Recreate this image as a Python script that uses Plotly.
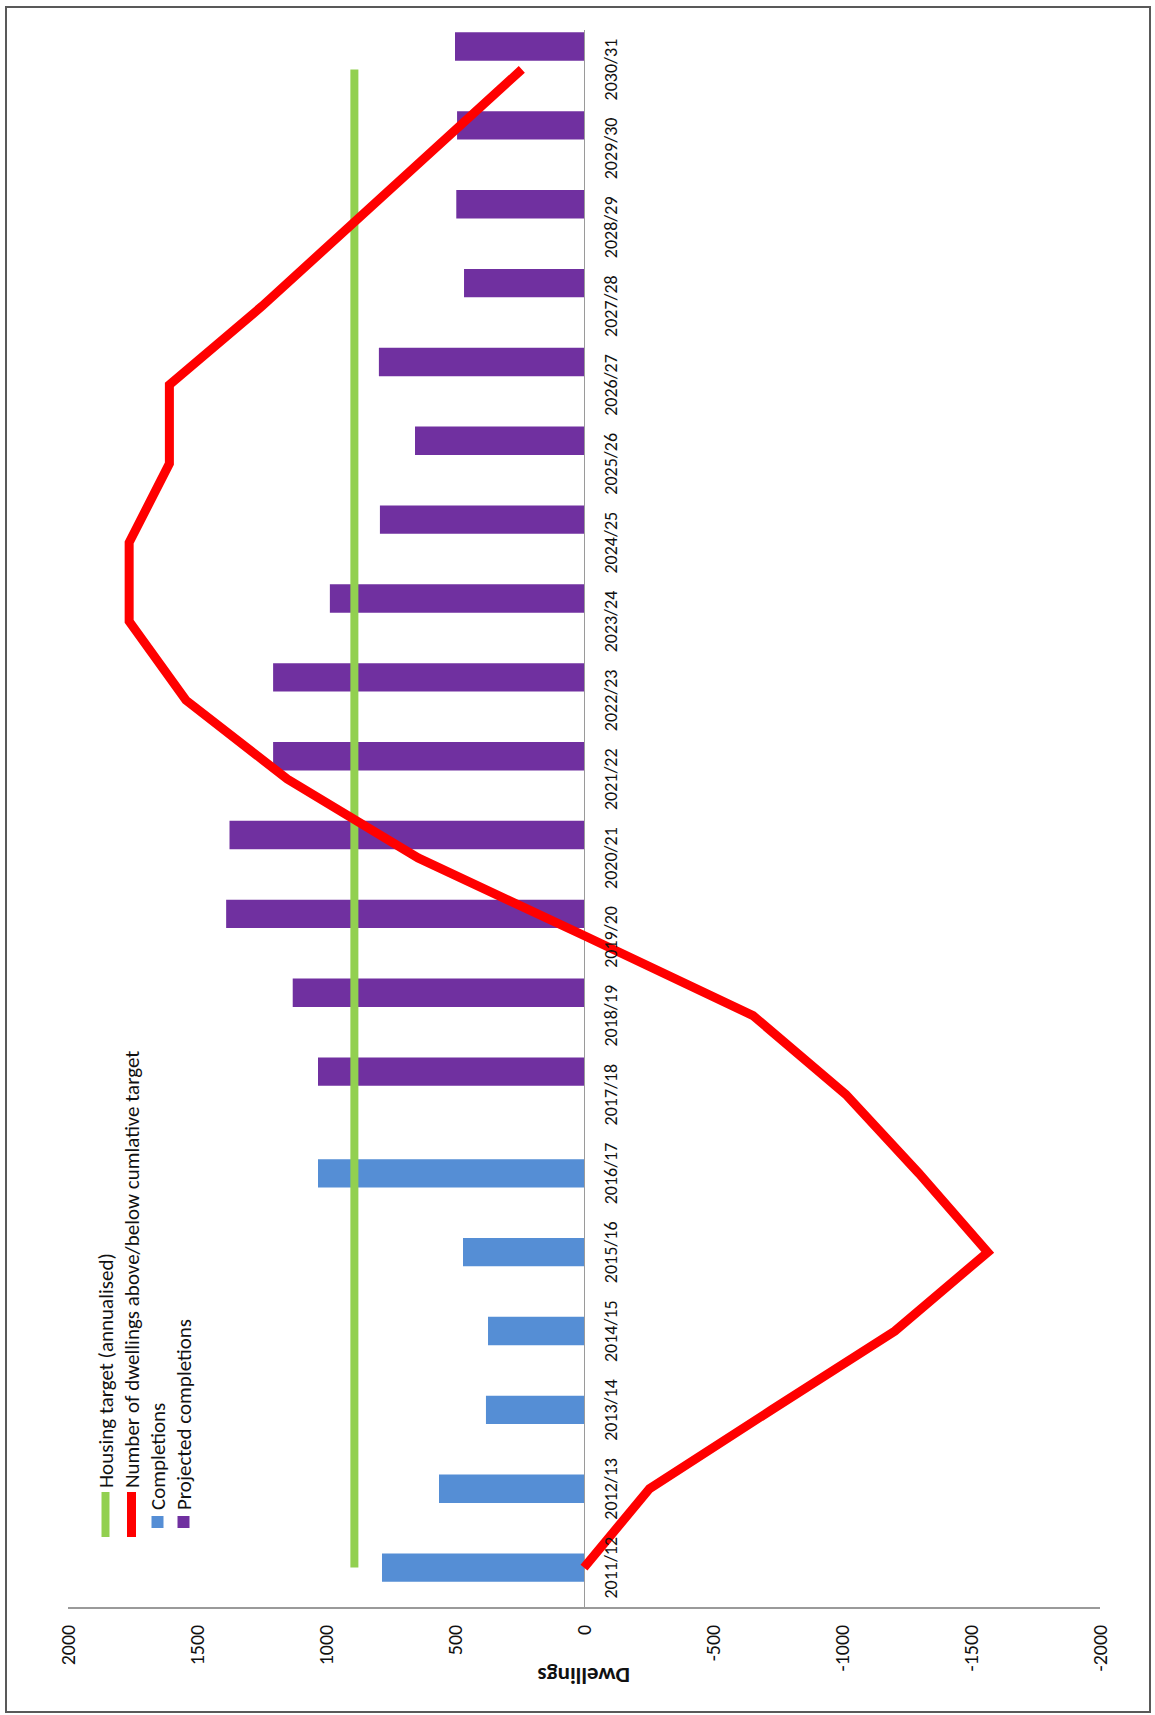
import plotly.graph_objects as go

# ---------------- data ----------------
categories = ["2011/12", "2012/13", "2013/14", "2014/15", "2015/16", "2016/17",
              "2017/18", "2018/19", "2019/20", "2020/21", "2021/22", "2022/23",
              "2023/24", "2024/25", "2025/26", "2026/27", "2027/28", "2028/29",
              "2029/30", "2030/31"]
completion_cats = ["2011/12", "2012/13", "2013/14", "2014/15", "2015/16", "2016/17"]
completions = [783, 562, 380, 372, 469, 1031]
projected_cats = ["2017/18", "2018/19", "2019/20", "2020/21", "2021/22", "2022/23",
                  "2023/24", "2024/25", "2025/26", "2026/27", "2027/28", "2028/29",
                  "2029/30", "2030/31"]
projected = [1031, 1129, 1387, 1374, 1205, 1205, 985, 791, 655, 795, 465, 495, 492, 500]
housing_target = [890] * 20
cumulative_vs_target = [0, -254, -727, -1205, -1565, -1298, -1015, -655, -10, 643,
                        1150, 1543, 1763, 1763, 1607, 1607, 1247, 909, 571, 241]
value_ticks = [2000, 1500, 1000, 500, 0, -500, -1000, -1500, -2000]
legend_names = ["Housing target (annualised)",
                "Number of dwellings above/below cumlative target",
                "Completions", "Projected completions"]

# ---------------- style ----------------
GREEN = "#92D050"
RED = "#FF0000"
BLUE = "#558ED5"
PURPLE = "#7030A0"
FONT = "Calibri, Carlito, Lato, sans-serif"

W, H = 1155, 1715
L, R, T, B = 68, 55, 30, 108
PW, PH = W - L - R, H - T - B


def px2x(px):
    return (px - L) / PW


def py2y(py):
    return (H - B - py) / PH


fig = go.Figure()

fig.add_trace(go.Bar(y=completion_cats, x=completions, orientation="h",
                     marker=dict(color=BLUE, line=dict(width=0)),
                     width=0.36, offset=-0.18, name=legend_names[2]))
fig.add_trace(go.Bar(y=projected_cats, x=projected, orientation="h",
                     marker=dict(color=PURPLE, line=dict(width=0)),
                     width=0.36, offset=0.11, name=legend_names[3]))
fig.add_trace(go.Scatter(y=categories, x=housing_target, mode="lines",
                         line=dict(color=GREEN, width=8), name=legend_names[0]))
fig.add_trace(go.Scatter(y=categories, x=cumulative_vs_target, mode="lines",
                         line=dict(color=RED, width=9), name=legend_names[1]))

annotations = []
# category labels next to the zero line
for c in categories:
    annotations.append(dict(x=0, y=c, xref="x", yref="y", text=c, showarrow=False,
                            textangle=-90, xanchor="left", yanchor="middle", xshift=14,
                            font=dict(family=FONT, size=18, color="#111")))
# axis title (upside down)
annotations.append(dict(x=0.5, y=py2y(1676), xref="paper", yref="paper",
                        text="<b>Dwellings</b>", showarrow=False, textangle=180,
                        xanchor="center", yanchor="middle",
                        font=dict(family=FONT, size=23, color="#111")))

shapes = []
# legend
leg_x = [105.5, 131.5, 157.5, 183.5]
leg_colors = [GREEN, RED, BLUE, PURPLE]
for i, (name, col) in enumerate(zip(legend_names, leg_colors)):
    x = leg_x[i]
    if i < 2:
        shapes.append(dict(type="line", xref="paper", yref="paper",
                           x0=px2x(x), x1=px2x(x), y0=py2y(1492), y1=py2y(1537),
                           line=dict(color=col, width=8 if i == 0 else 9)))
        start = 1490
    else:
        shapes.append(dict(type="rect", xref="paper", yref="paper",
                           x0=px2x(x - 6), x1=px2x(x + 6), y0=py2y(1528), y1=py2y(1516),
                           line=dict(width=0), fillcolor=col))
        start = 1512
    annotations.append(dict(x=px2x(x), y=py2y(start), xref="paper", yref="paper",
                            text=name, showarrow=False, textangle=-90,
                            xanchor="center", yanchor="bottom",
                            font=dict(family=FONT, size=21, color="#111")))

# outer border
shapes.append(dict(type="rect", xref="paper", yref="paper",
                   x0=px2x(6), x1=px2x(1150), y0=py2y(1712), y1=py2y(7),
                   line=dict(color="#595959", width=2), fillcolor="rgba(0,0,0,0)",
                   layer="above"))

fig.update_layout(
    width=W, height=H,
    margin=dict(l=L, r=R, t=T, b=B, autoexpand=False),
    paper_bgcolor="white", plot_bgcolor="white",
    showlegend=False, barmode="overlay",
    annotations=annotations, shapes=shapes,
    xaxis=dict(range=[2000, -2000], tickvals=value_ticks,
               ticktext=[str(v) for v in value_ticks], tickangle=-90,
               showgrid=False, zeroline=True, zerolinecolor="#9a9a9a", zerolinewidth=1,
               showline=True, linecolor="#9a9a9a", linewidth=1.5, ticks="",
               ticklabelstandoff=8,
               tickfont=dict(family=FONT, size=20, color="#111"), automargin=False),
    yaxis=dict(type="category", categoryorder="array", categoryarray=categories,
               range=[-0.5, 19.5], showticklabels=False, showgrid=False,
               zeroline=False, showline=False, ticks="", automargin=False),
)

fig.write_html("out.html")
